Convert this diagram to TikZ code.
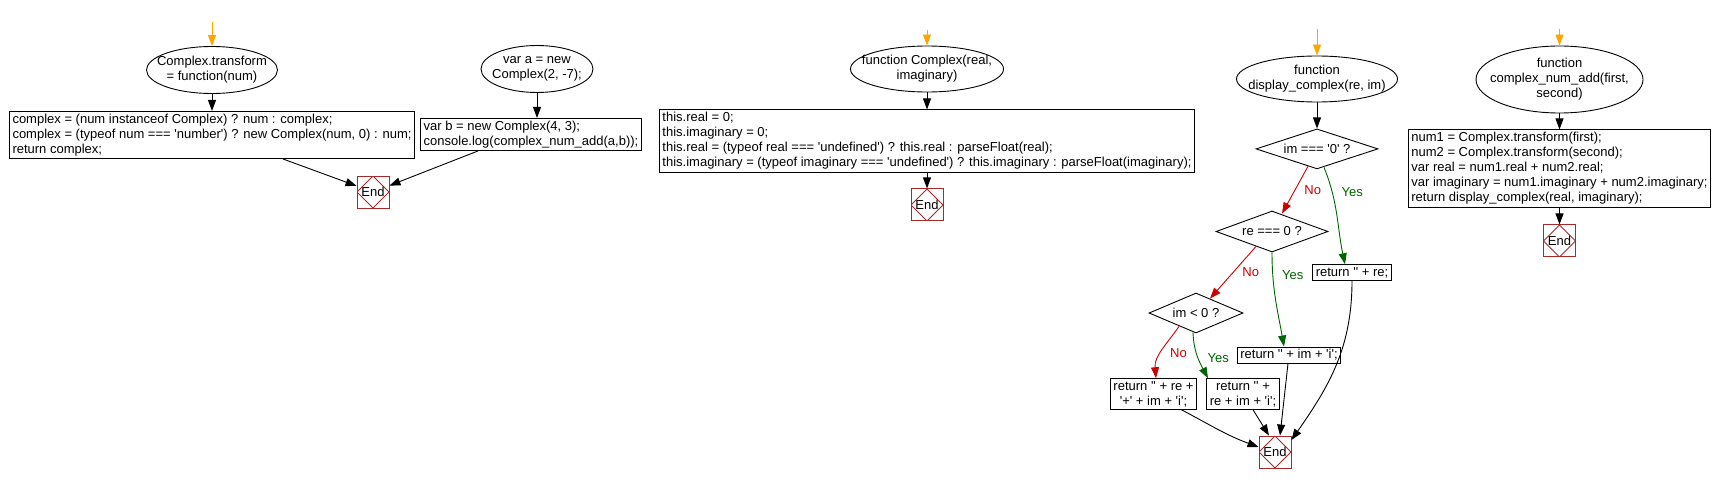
\documentclass[tikz,border=0pt]{standalone}
\usepackage{fontspec}
\newfontfamily\flowfont{Liberation Sans}[Ligatures=TeXOff]
\usetikzlibrary{shapes.geometric, arrows.meta, positioning}
\definecolor{startorange}{RGB}{255,165,0}
\definecolor{endred}{RGB}{165,42,42}
\definecolor{nored}{RGB}{204,0,0}
\definecolor{yesgreen}{RGB}{0,100,0}
\tikzset{
  startnode/.style={
    draw, ellipse, inner xsep=-13pt, inner ysep=0pt,
    align=center, line width=0.9pt
  },
  codeblock/.style={
    draw, rectangle, inner xsep=3pt, inner ysep=2.5pt,
    align=left, line width=0.9pt
  },
  decision/.style={
    draw, diamond, aspect=3, inner sep=1pt, line width=0.9pt
  },
  endnode/.style={
    draw=endred, rectangle, minimum width=32pt, minimum height=32pt,
    inner sep=0pt, line width=0.9pt,
    path picture={\draw[endred, line width=0.9pt]
      (path picture bounding box.north) -- (path picture bounding box.east)
      -- (path picture bounding box.south) -- (path picture bounding box.west) -- cycle;}
  },
  arrow/.style={-{Triangle[length=11pt, width=8pt]}, line width=0.9pt},
  startarrow/.style={arrow, startorange},
  noedge/.style={arrow, nored},
  yesedge/.style={arrow, yesgreen},
  nolabel/.style={text=nored, inner sep=0pt},
  yeslabel/.style={text=yesgreen, inner sep=0pt}
}
\begin{document}
\begin{tikzpicture}[x=1pt, y=1pt, font=\flowfont\fontsize{13pt}{15pt}\selectfont]
  \useasboundingbox (0,0) rectangle (1716,-484);

  % Complex.transform
  \node[startnode, minimum width=131pt, minimum height=47pt] (transf) at (212,-70)
    {Complex.transform\\= function(num)};
  \coordinate[above=24pt of transf] (s1);
  \node[codeblock, below=17pt of transf] (transfbody)
    {complex = (num instanceof Complex) ? num : complex;\\
     complex = (typeof num === 'number') ? new Complex(num, 0) : num;\\
     return complex;};
  \node[endnode] (end1) at (373,-192) {End};

  % Main code
  \node[startnode, minimum width=112pt, minimum height=47pt] (vara) at (537,-69)
    {var a = new\\Complex(2, -7);};
  \node[codeblock, below=25pt of vara, xshift=-6pt] (varb)
    {var b = new Complex(4, 3);\\console.log(complex\_num\_add(a,b));};

  % Complex constructor
  \node[startnode, minimum width=153pt, minimum height=46pt] (ctor) at (927,-69)
    {function Complex(real,\\imaginary)};
  \coordinate[above=16pt of ctor] (s2);
  \node[codeblock, below=17pt of ctor] (ctorbody)
    {this.real = 0;\\
     this.imaginary = 0;\\
     this.real = (typeof real === 'undefined') ? this.real : parseFloat(real);\\
     this.imaginary = (typeof imaginary === 'undefined') ? this.imaginary : parseFloat(imaginary);};
  \node[endnode, below=16pt of ctorbody] (end2) {End};

  % display_complex
  \node[startnode, minimum width=161pt, minimum height=46pt] (disp) at (1317,-79)
    {function\\display\_complex(re, im)};
  \coordinate[above=27pt of disp] (s3);
  \node[decision, minimum width=122pt, minimum height=40pt, below=26pt of disp] (imzero) {im === '0' ?};
  \node[decision, minimum width=112pt, minimum height=41pt] (rezero) at (1272,-231.5) {re === 0 ?};
  \node[codeblock] (retre) at (1352,-272.5) {return '' + re;};
  \node[decision, minimum width=94pt, minimum height=40pt] (imneg) at (1196,-313) {im < 0 ?};
  \node[codeblock] (retim) at (1289,-355) {return '' + im + 'i';};
  \node[codeblock, align=center] (retplus) at (1153.5,-394) {return '' + re +\\'+' + im + 'i';};
  \node[codeblock, align=center] (retsum) at (1243,-394) {return '' +\\re + im + 'i';};
  \node[endnode] (end3) at (1275,-452) {End};

  % complex_num_add
  \node[startnode, minimum width=167pt, minimum height=67pt] (add) at (1559.5,-79.5)
    {function\\complex\_num\_add(first,\\second)};
  \coordinate[above=17pt of add] (s4);
  \node[codeblock, below=16pt of add] (addbody)
    {num1 = Complex.transform(first);\\
     num2 = Complex.transform(second);\\
     var real = num1.real + num2.real;\\
     var imaginary = num1.imaginary + num2.imaginary;\\
     return display\_complex(real, imaginary);};
  \node[endnode, below=17pt of addbody] (end4) {End};

  % Entry arrows
  \draw[startarrow] (s1) -- (transf);
  \draw[startarrow] (s2) -- (ctor);
  \draw[startarrow] (s3) -- (disp);
  \draw[startarrow] (s4) -- (add);

  % Flow
  \draw[arrow] (transf) -- (transfbody);
  \draw[arrow] ([xshift=71pt]transfbody.south) -- (end1);
  \draw[arrow] (vara.south) -- (vara.south |- varb.north);
  \draw[arrow] ([xshift=-53pt]varb.south) -- (end1);
  \draw[arrow] (ctor) -- (ctorbody);
  \draw[arrow] (ctorbody) -- (end2);
  \draw[arrow] (add) -- (addbody);
  \draw[arrow] (addbody) -- (end4);
  \draw[arrow] (disp) -- (imzero);

  % Branches
  \draw[noedge] ([xshift=-9pt,yshift=3pt]imzero.south) --
    node[nolabel, midway, right=9pt] {No} ([xshift=10pt,yshift=-3pt]rezero.north);
  \draw[yesedge] ([xshift=7pt,yshift=2pt]imzero.south) to[out=-68,in=102]
    node[yeslabel, pos=0.25, right=9pt] {Yes} ([xshift=-7pt]retre.north);
  \draw[noedge] ([xshift=-16pt,yshift=6pt]rezero.south) --
    node[nolabel, midway, right=9pt] {No} ([xshift=14pt,yshift=-6pt]imneg.north);
  \draw[yesedge] (rezero.south) to[out=-90,in=100]
    node[yeslabel, pos=0.22, right=9pt] {Yes} ([xshift=-5pt]retim.north);
  \draw[noedge] ([xshift=-17pt,yshift=7pt]imneg.south) to[out=-125,in=95]
    node[nolabel, pos=0.55, right=9pt] {No} ([xshift=2.5pt]retplus.north);
  \draw[yesedge] ([xshift=-3pt,yshift=1pt]imneg.south) to[out=-88,in=118]
    node[yeslabel, pos=0.55, right=9pt] {Yes} ([xshift=-35pt]retsum.north);

  % Returns
  \draw[arrow] ([xshift=28pt]retplus.south) to[out=-28,in=160] ([yshift=5pt]end3.west);
  \draw[arrow] ([xshift=10pt]retsum.south) -- ([xshift=-6pt]end3.north);
  \draw[arrow] ([xshift=-1pt]retim.south) -- ([xshift=5pt]end3.north);
  \draw[arrow] (retre.south) to[out=-90,in=55] ([yshift=12pt]end3.east);
\end{tikzpicture}
\end{document}
